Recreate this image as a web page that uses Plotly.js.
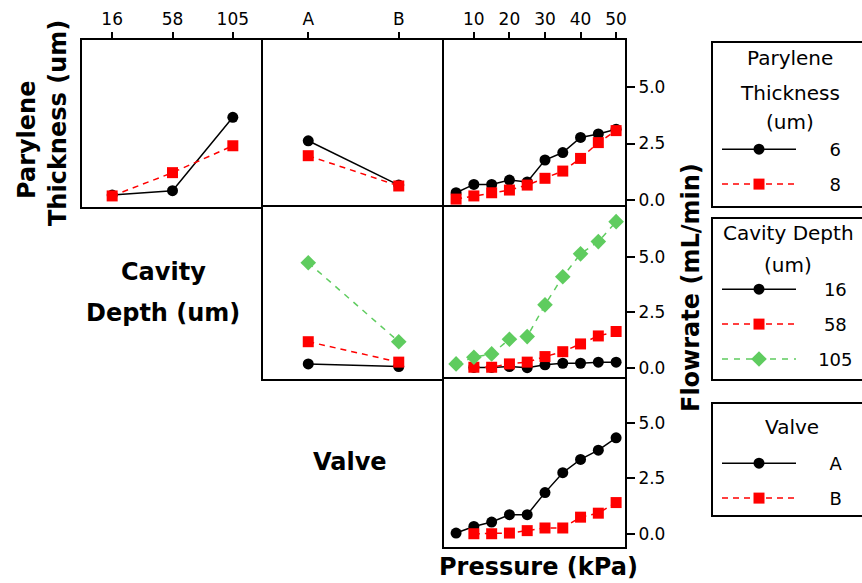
<!DOCTYPE html>
<html><head><meta charset="utf-8">
<script src="https://cdn.plot.ly/plotly-3.0.1.min.js"></script>
<style>html,body{margin:0;padding:0;background:#fff;}#chart{width:862px;height:583px;}</style>
</head><body><div id="chart"></div>
<script>
// ---- data ----
const cavityLevels = ['16', '58', '105'];
const valveLevels = ['A', 'B'];
const pressureLevels = [5, 10, 15, 20, 25, 30, 35, 40, 45, 50];
const pressureTicks = [10, 20, 30, 40, 50];
const flowTicks = [0, 2.5, 5];

// Row 1: grouped by Parylene Thickness (um)
const paryleneNames = ['6', '8'];
const par6ByCavity = [0.22, 0.41, 3.66];
const par8ByCavity = [0.18, 1.21, 2.40];
const par6ByValve = [2.62, 0.66];
const par8ByValve = [1.96, 0.62];
const par6ByPressure = [0.32, 0.69, 0.69, 0.88, 0.80, 1.77, 2.10, 2.77, 2.92, 3.13];
const par8ByPressure = [0.04, 0.18, 0.32, 0.44, 0.66, 0.96, 1.28, 1.84, 2.54, 3.07];

// Row 2: grouped by Cavity Depth (um)
const cavityNames = ['16', '58', '105'];
const cav16ByValve = [0.18, 0.06];
const cav58ByValve = [1.18, 0.26];
const cav105ByValve = [4.74, 1.18];
const cav16ByPressure = [null, 0.02, 0.02, 0.06, 0.01, 0.14, 0.21, 0.21, 0.26, 0.26];
const cav58ByPressure = [null, 0.03, 0.03, 0.18, 0.26, 0.51, 0.73, 1.08, 1.44, 1.64];
const cav105ByPressure = [0.18, 0.48, 0.63, 1.29, 1.41, 2.84, 4.11, 5.14, 5.69, 6.59];

// Row 3: grouped by Valve
const valveNames = ['A', 'B'];
const valveAByPressure = [0.03, 0.33, 0.53, 0.86, 0.86, 1.86, 2.76, 3.36, 3.78, 4.34];
const valveBByPressure = [null, 0.00, 0.00, 0.03, 0.14, 0.26, 0.26, 0.75, 0.93, 1.41];

// ---- styles ----
const W = 862, H = 583;
const px = v => v / W, py = v => 1 - v / H;
const FONT = 'DejaVu Sans';
const pad = name => '\u00a0'.repeat(Math.max(0, 6 - name.length)) + name;
const styleBlack = {mode: 'lines+markers', line: {color: '#000', width: 1.5}, marker: {symbol: 'circle', size: 11, color: '#000'}};
const styleRed = {mode: 'lines+markers', line: {color: '#ff0000', width: 1.5, dash: '6px,5px'}, marker: {symbol: 'square', size: 11, color: '#ff0000'}};
const styleGreen = {mode: 'lines+markers', line: {color: '#5fcc5f', width: 1.5, dash: '6px,6px'}, marker: {symbol: 'diamond', size: 12, color: '#5fcc5f'}};

function tr(x, y, xa, ya, st, name, legend, show) {
  return Object.assign({x: x, y: y, xaxis: xa, yaxis: ya, name: pad(name), legend: legend,
    legendgroup: legend + name, showlegend: show, hoverinfo: 'skip'}, JSON.parse(JSON.stringify(st)));
}

const data = [
  tr(cavityLevels, par6ByCavity, 'x', 'y', styleBlack, paryleneNames[0], 'legend', true),
  tr(cavityLevels, par8ByCavity, 'x', 'y', styleRed, paryleneNames[1], 'legend', true),
  tr(valveLevels, par6ByValve, 'x2', 'y2', styleBlack, paryleneNames[0], 'legend', false),
  tr(valveLevels, par8ByValve, 'x2', 'y2', styleRed, paryleneNames[1], 'legend', false),
  tr(pressureLevels, par6ByPressure, 'x3', 'y3', styleBlack, paryleneNames[0], 'legend', false),
  tr(pressureLevels, par8ByPressure, 'x3', 'y3', styleRed, paryleneNames[1], 'legend', false),

  tr(valveLevels, cav16ByValve, 'x4', 'y4', styleBlack, cavityNames[0], 'legend2', true),
  tr(valveLevels, cav58ByValve, 'x4', 'y4', styleRed, cavityNames[1], 'legend2', true),
  tr(valveLevels, cav105ByValve, 'x4', 'y4', styleGreen, cavityNames[2], 'legend2', true),
  tr(pressureLevels, cav16ByPressure, 'x5', 'y5', styleBlack, cavityNames[0], 'legend2', false),
  tr(pressureLevels, cav58ByPressure, 'x5', 'y5', styleRed, cavityNames[1], 'legend2', false),
  tr(pressureLevels, cav105ByPressure, 'x5', 'y5', styleGreen, cavityNames[2], 'legend2', false),

  tr(pressureLevels, valveAByPressure, 'x6', 'y6', styleBlack, valveNames[0], 'legend3', true),
  tr(pressureLevels, valveBByPressure, 'x6', 'y6', styleRed, valveNames[1], 'legend3', true)
];

const cols = [[82, 263], [263, 444], [444, 625]];
const rows = [[40, 207], [207, 379], [379, 547]];
const dom = c => [px(c[0]), px(c[1])];
const domY = r => [py(r[1]), py(r[0])];
const tickFont = {family: FONT, size: 17, color: '#000'};
const base = {showline: true, mirror: false, linecolor: '#000', linewidth: 2, showgrid: false,
  zeroline: false, fixedrange: true, tickfont: tickFont, tickcolor: '#000', tickwidth: 2};
const noTicks = {ticks: '', showticklabels: false};
const xPresRange = [1.6, 52.5];
const r1 = [-0.31, 7.08], r2 = [-0.5, 7.25], r3 = [-0.6, 7.0];
const yRight = Object.assign({}, base, {side: 'right', mirror: true, ticks: 'outside', ticklen: 8, tickvals: flowTicks, tickformat: '.1f'});

const bold = {family: FONT, size: 24, color: '#000', weight: 'bold'};
const ann = (text, x, y, angle, font) => ({text: text, x: px(x), y: py(y), xref: 'paper', yref: 'paper',
  showarrow: false, font: font || bold, textangle: angle || 0, xanchor: 'center', yanchor: 'middle'});

const legTitleFont = {family: FONT, size: 20, color: '#000'};
const legFont = {family: FONT, size: 18, color: '#000'};
const legBase = {xanchor: 'left', yanchor: 'top', borderwidth: 0, bgcolor: 'rgba(0,0,0,0)',
  font: legFont, itemwidth: 74, tracegroupgap: 8.5, traceorder: 'grouped', itemclick: false, itemdoubleclick: false};
const box = (y0, y1) => ({type: 'rect', xref: 'paper', yref: 'paper', x0: px(712), x1: px(900), y0: py(y1), y1: py(y0),
  line: {color: '#000', width: 2}, fillcolor: 'rgba(0,0,0,0)'});

const layout = {
  width: W, height: H, margin: {l: 0, r: 0, t: 0, b: 0, autoexpand: false},
  paper_bgcolor: '#fff', plot_bgcolor: '#fff', showlegend: true,
  // row 1
  xaxis: Object.assign({}, base, {type: 'category', range: [-0.5, 2.5], side: 'top', mirror: true, ticks: 'outside', ticklen: 6, domain: dom(cols[0]), anchor: 'y'}),
  yaxis: Object.assign({}, base, noTicks, {domain: domY(rows[0]), anchor: 'x', range: r1}),
  xaxis2: Object.assign({}, base, {type: 'category', range: [-0.5, 1.5], side: 'top', ticks: 'outside', ticklen: 6, domain: dom(cols[1]), anchor: 'y2'}),
  yaxis2: Object.assign({}, base, noTicks, {domain: domY(rows[0]), anchor: 'x2', range: r1}),
  xaxis3: Object.assign({}, base, {range: xPresRange, side: 'top', ticks: 'outside', ticklen: 6, tickvals: pressureTicks, domain: dom(cols[2]), anchor: 'y3'}),
  yaxis3: Object.assign({}, yRight, {domain: domY(rows[0]), anchor: 'x3', range: r1}),
  // row 2
  xaxis4: Object.assign({}, base, noTicks, {type: 'category', range: [-0.5, 1.5], side: 'top', mirror: true, domain: dom(cols[1]), anchor: 'y4'}),
  yaxis4: Object.assign({}, base, noTicks, {domain: domY(rows[1]), anchor: 'x4', range: r2}),
  xaxis5: Object.assign({}, base, noTicks, {range: xPresRange, side: 'top', domain: dom(cols[2]), anchor: 'y5'}),
  yaxis5: Object.assign({}, yRight, {domain: domY(rows[1]), anchor: 'x5', range: r2}),
  // row 3
  xaxis6: Object.assign({}, base, noTicks, {range: xPresRange, side: 'bottom', mirror: true, domain: dom(cols[2]), anchor: 'y6'}),
  yaxis6: Object.assign({}, yRight, {domain: domY(rows[2]), anchor: 'x6', range: r3}),
  legend: Object.assign({}, legBase, {x: px(717), y: py(131)}),
  legend2: Object.assign({}, legBase, {x: px(717), y: py(271)}),
  legend3: Object.assign({}, legBase, {x: px(717), y: py(445)}),
  shapes: [box(42, 207), box(218, 380), box(403, 516)],
  annotations: [
    ann('Parylene', 27, 140, -90),
    ann('Thickness (um)', 58, 123, -90),
    ann('Cavity', 163, 272),
    ann('Depth (um)', 163, 313),
    ann('Valve', 350, 462),
    ann('Pressure (kPa)', 538, 567),
    ann('Flowrate (mL/min)', 691, 288, -90),
    ann('Parylene', 790, 58, 0, legTitleFont),
    ann('Thickness', 790, 93, 0, legTitleFont),
    ann('(um)', 790, 122, 0, legTitleFont),
    ann('Cavity Depth', 788, 233, 0, legTitleFont),
    ann('(um)', 788, 265, 0, legTitleFont),
    ann('Valve', 792, 427, 0, legTitleFont)
  ]
};

Plotly.newPlot('chart', data, layout, {staticPlot: true, displayModeBar: false});
</script></body></html>
